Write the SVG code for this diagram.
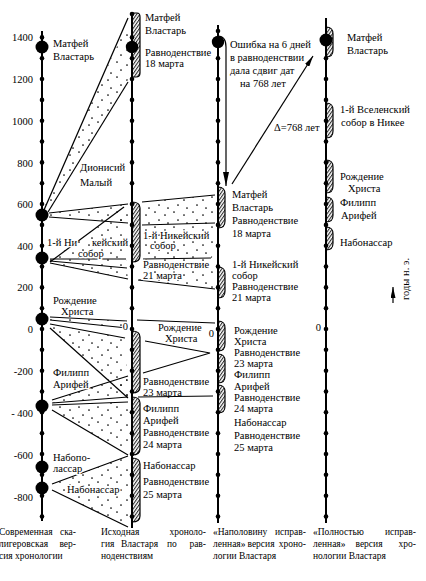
<svg xmlns="http://www.w3.org/2000/svg" width="426" height="581" viewBox="0 0 426 581">
<style>
.ax{stroke:#000;stroke-width:2;fill:none}
.ln{stroke:#000;stroke-width:1.2;fill:none}
.d{fill:#000}
.br{fill:url(#hatch);stroke:#000;stroke-width:1.2}
.wd{fill:url(#dots);stroke:none}
text{font-family:"Liberation Serif","Times New Roman",serif;font-size:10.5px;fill:#000}
.h{stroke:#fff;stroke-width:2.5px;paint-order:stroke;stroke-linejoin:round}
.yr{text-anchor:end}
.cap{font-size:9.5px}
.e{text-anchor:end}
.m{text-anchor:middle}
</style>
<defs>
<pattern id="hatch" width="2.6" height="4" patternUnits="userSpaceOnUse" patternTransform="rotate(35)"><line x1="0.6" y1="0" x2="0.6" y2="4" stroke="#000" stroke-width="0.9"/></pattern>
<pattern id="dots" width="19" height="15" patternUnits="userSpaceOnUse"><circle cx="3" cy="2" r="0.85" fill="#000"/><circle cx="13" cy="5" r="0.85" fill="#000"/><circle cx="7" cy="10" r="0.85" fill="#000"/><circle cx="16" cy="13" r="0.85" fill="#000"/></pattern>
<marker id="ah" markerWidth="14" markerHeight="6" refX="14" refY="3" orient="auto" markerUnits="userSpaceOnUse"><path d="M0,0 L14,3 L0,6 Z" fill="#000"/></marker>
<marker id="ah2" markerWidth="11" markerHeight="5" refX="11" refY="2.5" orient="auto" markerUnits="userSpaceOnUse"><path d="M0,0 L11,2.5 L0,5 Z" fill="#000"/></marker>
</defs>
<rect width="426" height="581" fill="#fff"/>

<g id="connectors">
<polygon class="wd" points="45,205 128,22 128,80 50,208"/>
<line class="ln" x1="44" y1="210" x2="128" y2="18"/>
<line class="ln" x1="48" y1="212" x2="128" y2="82"/>
<polygon class="wd" points="49,213 128,204 128,223 49,217"/>
<line class="ln" x1="49" y1="213" x2="128" y2="204"/>
<line class="ln" x1="49" y1="217" x2="128" y2="223"/>
<polygon class="wd" points="52,259 124,209 125,259"/>
<line class="ln" x1="50" y1="262" x2="124" y2="207"/>
<line class="ln" x1="50" y1="259" x2="126" y2="259"/>
<polygon class="wd" points="50,259 126,259 128,279 50,263"/>
<line class="ln" x1="50" y1="261" x2="127" y2="268"/>
<line class="ln" x1="50" y1="263" x2="128" y2="279"/>
<polygon class="wd" points="50,317 127,321 127,328 50,320"/>
<line class="ln" x1="50" y1="317" x2="127" y2="321"/>
<line class="ln" x1="50" y1="320" x2="127" y2="328"/>
<polygon class="wd" points="50,324 125,338 128,398 50,328"/>
<line class="ln" x1="50" y1="324" x2="125" y2="338"/>
<line class="ln" x1="50" y1="328" x2="128" y2="398"/>
<polygon class="wd" points="52,400 128,376 128,397 52,403"/>
<line class="ln" x1="52" y1="400" x2="128" y2="376"/>
<line class="ln" x1="52" y1="403" x2="128" y2="397"/>
<polygon class="wd" points="52,405 128,402 128,455 52,410"/>
<line class="ln" x1="52" y1="405" x2="128" y2="402"/>
<line class="ln" x1="52" y1="410" x2="128" y2="455"/>
<polygon class="wd" points="52,484 128,456 128,527 52,490"/>
<line class="ln" x1="52" y1="484" x2="128" y2="456"/>
<line class="ln" x1="52" y1="490" x2="128" y2="527"/>
<polygon class="wd" points="142,202 215,195 215,223 142,225"/>
<line class="ln" x1="142" y1="202" x2="215" y2="195"/>
<line class="ln" x1="142" y1="225" x2="215" y2="223"/>
<polygon class="wd" points="142,225 215,223 212,258 143,259"/>
<line class="ln" x1="143" y1="259" x2="211" y2="258"/>
<polygon class="wd" points="143,259 211,258 215,289 138,280"/>
<line class="ln" x1="138" y1="280" x2="215" y2="289"/>
<line class="ln" x1="137" y1="320" x2="215" y2="323"/>
<polyline class="ln" points="145,341 210,353 143,373"/>
<line class="ln" x1="138" y1="397" x2="213" y2="396"/>
<path class="ln" d="M218,36 C224,36 226,40 226,47 L226,186" marker-end="url(#ah)"/>
<line class="ln" x1="232" y1="184" x2="313" y2="56" marker-end="url(#ah2)"/>
<line class="ln" x1="393" y1="303" x2="393" y2="287" marker-end="url(#ah2)"/>
</g>

<g id="col1">
<line class="ax" x1="42" y1="31" x2="42" y2="521"/>
<g class="d">
<circle cx="42" cy="37.4" r="2.3"/><circle cx="42" cy="58.2" r="2.3"/><circle cx="42" cy="79" r="2.3"/><circle cx="42" cy="99.9" r="2.3"/><circle cx="42" cy="120.7" r="2.3"/><circle cx="42" cy="141.5" r="2.3"/><circle cx="42" cy="162.4" r="2.3"/><circle cx="42" cy="183.2" r="2.3"/><circle cx="42" cy="204" r="2.3"/><circle cx="42" cy="224.9" r="2.3"/><circle cx="42" cy="245.7" r="2.3"/><circle cx="42" cy="266.5" r="2.3"/><circle cx="42" cy="287.4" r="2.3"/><circle cx="42" cy="308.2" r="2.3"/><circle cx="42" cy="329" r="2.3"/><circle cx="42" cy="349.8" r="2.3"/><circle cx="42" cy="370.7" r="2.3"/><circle cx="42" cy="391.5" r="2.3"/><circle cx="42" cy="412.3" r="2.3"/><circle cx="42" cy="433.2" r="2.3"/><circle cx="42" cy="454" r="2.3"/><circle cx="42" cy="474.8" r="2.3"/><circle cx="42" cy="495.7" r="2.3"/><circle cx="42" cy="516.5" r="2.3"/>
<circle cx="42" cy="47" r="6.5"/><circle cx="42" cy="215" r="6.5"/><circle cx="42" cy="258" r="6.5"/><circle cx="42" cy="319" r="6.5"/><circle cx="42" cy="406" r="6.5"/><circle cx="42" cy="467" r="6.5"/><circle cx="42" cy="488" r="6.5"/>
</g>
<text class="yr" x="33" y="41">1400</text>
<text class="yr" x="33" y="83">1200</text>
<text class="yr" x="33" y="125">1000</text>
<text class="yr" x="33" y="167">800</text>
<text class="yr" x="33" y="208">600</text>
<text class="yr" x="33" y="250">400</text>
<text class="yr" x="33" y="291">200</text>
<text class="yr" x="33" y="333">0</text>
<text class="yr" x="33" y="375">-200</text>
<text class="yr" x="33" y="417">- 400</text>
<text class="yr" x="33" y="459">-600</text>
<text class="yr" x="33" y="501">-800</text>
</g>
<g id="col1-labels">
<text x="53" y="47">Матфей</text>
<text x="53" y="60">Властарь</text>
<text x="80" y="171" class="h">Дионисий</text>
<text x="80" y="186" class="h">Малый</text>
<text x="47" y="246" class="h">1-й Ни</text>
<text x="92" y="246" class="h">кейский</text>
<text x="78" y="256.5" class="h">собор</text>
<text x="53" y="304">Рождение</text>
<text x="61" y="315">Христа</text>
<text x="53" y="376" class="h">Филипп</text>
<text x="53" y="388" class="h">Арифей</text>
<text x="53" y="461" class="h">Набопо-</text>
<text x="53" y="472" class="h">лассар</text>
<text x="67" y="493" class="h">Набонассар</text>
</g>

<g id="col2">
<line class="ax" x1="132" y1="12" x2="132" y2="528"/>
<path class="br" d="M132,13 L137,13 Q140,13 140,17 L140,73 Q140,77 136,77 L132,77 Z"/>
<path class="br" d="M132,202 Q140,202 140,208 L140,256 Q140,262 132,262 Z"/>
<path class="br" d="M132,331 Q140,331 140,337 L140,387 Q140,393 132,393 Z"/>
<path class="br" d="M132,397 Q140,397 140,403 L140,449 Q140,455 132,455 Z"/>
<path class="br" d="M132,458 Q140,458 140,464 L140,516 Q140,522 132,522 Z"/>
<g class="d">
<circle cx="132" cy="14" r="2.3"/><circle cx="132" cy="37.4" r="2.3"/><circle cx="132" cy="58.2" r="2.3"/><circle cx="132" cy="79" r="2.3"/><circle cx="132" cy="99.9" r="2.3"/><circle cx="132" cy="120.7" r="2.3"/><circle cx="132" cy="141.5" r="2.3"/><circle cx="132" cy="162.4" r="2.3"/><circle cx="132" cy="183.2" r="2.3"/><circle cx="132" cy="204" r="2.3"/><circle cx="132" cy="224.9" r="2.3"/><circle cx="132" cy="245.7" r="2.3"/><circle cx="132" cy="266.5" r="2.3"/><circle cx="132" cy="287.4" r="2.3"/><circle cx="132" cy="308.2" r="2.3"/><circle cx="132" cy="329" r="2.3"/><circle cx="132" cy="349.8" r="2.3"/><circle cx="132" cy="370.7" r="2.3"/><circle cx="132" cy="391.5" r="2.3"/><circle cx="132" cy="412.3" r="2.3"/><circle cx="132" cy="433.2" r="2.3"/><circle cx="132" cy="454" r="2.3"/><circle cx="132" cy="474.8" r="2.3"/><circle cx="132" cy="495.7" r="2.3"/><circle cx="132" cy="516.5" r="2.3"/>
<circle cx="132" cy="47" r="6.2"/>
</g>
<text class="e h" x="128" y="330">0</text>
</g>
<g id="col2-labels">
<text x="145" y="21">Матфей</text>
<text x="145" y="34">Властарь</text>
<text x="145" y="56">Равноденствие</text>
<text x="145" y="67">18 марта</text>
<text x="143" y="239" class="h">1-й Никейский</text>
<text x="150" y="249" class="h">собор</text>
<text x="143" y="268" class="h">Равноденствие</text>
<text x="143" y="279" class="h">21 марта</text>
<text x="158" y="331">Рождение</text>
<text x="165" y="342">Христа</text>
<text x="143" y="385">Равноденствие</text>
<text x="143" y="396">23 марта</text>
<text x="143" y="412">Филипп</text>
<text x="143" y="424">Арифей</text>
<text x="143" y="436">Равноденствие</text>
<text x="143" y="448">24 марта</text>
<text x="143" y="469">Набонассар</text>
<text x="143" y="485">Равноденствие</text>
<text x="143" y="498">25 марта</text>
</g>

<g id="col3">
<line class="ax" x1="218" y1="25" x2="218" y2="523"/>
<path class="br" d="M218,187 C224,187 225,190 225,194 L225,221 C225,225 224,228 218,228 Z"/>
<path class="br" d="M218,267 C224,267 225,270 225,274 L225,291 C225,295 224,298 218,298 Z"/>
<path class="br" d="M218,321 C224,321 225,324 225,328 L225,344 C225,348 224,351 218,351 Z"/>
<path class="br" d="M218,354 C224,354 225,357 225,361 L225,376 C225,380 224,383 218,383 Z"/>
<path class="br" d="M218,385 C224,385 225,388 225,392 L225,406 C225,410 224,413 218,413 Z"/>
<g class="d">
<circle cx="218" cy="31" r="2.3"/><circle cx="218" cy="58.2" r="2.3"/><circle cx="218" cy="79" r="2.3"/><circle cx="218" cy="99.9" r="2.3"/><circle cx="218" cy="120.7" r="2.3"/><circle cx="218" cy="141.5" r="2.3"/><circle cx="218" cy="162.4" r="2.3"/><circle cx="218" cy="183.2" r="2.3"/><circle cx="218" cy="204" r="2.3"/><circle cx="218" cy="224.9" r="2.3"/><circle cx="218" cy="245.7" r="2.3"/><circle cx="218" cy="266.5" r="2.3"/><circle cx="218" cy="287.4" r="2.3"/><circle cx="218" cy="308.2" r="2.3"/><circle cx="218" cy="329" r="2.3"/><circle cx="218" cy="349.8" r="2.3"/><circle cx="218" cy="370.7" r="2.3"/><circle cx="218" cy="391.5" r="2.3"/><circle cx="218" cy="412.3" r="2.3"/><circle cx="218" cy="433.2" r="2.3"/><circle cx="218" cy="454" r="2.3"/><circle cx="218" cy="474.8" r="2.3"/><circle cx="218" cy="495.7" r="2.3"/><circle cx="218" cy="516.5" r="2.3"/>
<circle cx="218" cy="42" r="6.2"/>
</g>
<text class="e" x="214" y="337">0</text>
</g>
<g id="col3-labels">
<text x="230" y="48">Ошибка на 6 дней</text>
<text x="230" y="61">в равноденствии</text>
<text x="230" y="74">дала сдвиг дат</text>
<text x="240" y="87">на 768 лет</text>
<text x="274" y="131">Δ=768 лет</text>
<text x="232" y="198">Матфей</text>
<text x="232" y="211">Властарь</text>
<text x="232" y="224">Равноденствие</text>
<text x="232" y="237">18 марта</text>
<text x="232" y="268">1-й Никейский</text>
<text x="232" y="279">собор</text>
<text x="232" y="290">Равноденствие</text>
<text x="232" y="301">21 марта</text>
<text x="234" y="334">Рождение</text>
<text x="234" y="345">Христа</text>
<text x="234" y="356">Равноденствие</text>
<text x="234" y="367">23 марта</text>
<text x="234" y="378">Филипп</text>
<text x="234" y="390">Арифей</text>
<text x="234" y="401">Равноденствие</text>
<text x="234" y="412">24 марта</text>
<text x="234" y="426">Набонассар</text>
<text x="234" y="439">Равноденствие</text>
<text x="234" y="451">25 марта</text>
</g>

<g id="col4">
<line class="ax" x1="326" y1="18" x2="326" y2="523"/>
<path class="br" d="M326,27 C332,27 333,30 333,34 L333,50 C333,54 332,57 326,57 Z"/>
<path class="br" d="M326,103 C332,103 333,106 333,110 L333,131 C333,135 332,138 326,138 Z"/>
<path class="br" d="M326,160 C332,160 333,163 333,167 L333,186 C333,190 332,193 326,193 Z"/>
<path class="br" d="M326,197 C332,197 333,200 333,204 L333,215 C333,219 332,222 326,222 Z"/>
<path class="br" d="M326,227 C332,227 333,230 333,234 L333,243 C333,247 332,250 326,250 Z"/>
<g class="d">
<circle cx="326" cy="58.2" r="2.3"/><circle cx="326" cy="79" r="2.3"/><circle cx="326" cy="99.9" r="2.3"/><circle cx="326" cy="120.7" r="2.3"/><circle cx="326" cy="141.5" r="2.3"/><circle cx="326" cy="162.4" r="2.3"/><circle cx="326" cy="183.2" r="2.3"/><circle cx="326" cy="204" r="2.3"/><circle cx="326" cy="224.9" r="2.3"/><circle cx="326" cy="245.7" r="2.3"/><circle cx="326" cy="266.5" r="2.3"/><circle cx="326" cy="287.4" r="2.3"/><circle cx="326" cy="308.2" r="2.3"/><circle cx="326" cy="329" r="2.3"/><circle cx="326" cy="349.8" r="2.3"/><circle cx="326" cy="370.7" r="2.3"/><circle cx="326" cy="391.5" r="2.3"/><circle cx="326" cy="412.3" r="2.3"/><circle cx="326" cy="433.2" r="2.3"/><circle cx="326" cy="454" r="2.3"/><circle cx="326" cy="474.8" r="2.3"/><circle cx="326" cy="495.7" r="2.3"/><circle cx="326" cy="516.5" r="2.3"/>
<circle cx="326" cy="40" r="6.5"/>
</g>
<text class="e" x="321" y="331">0</text>
</g>
<g id="col4-labels">
<text x="347" y="41">Матфей</text>
<text x="347" y="54">Властарь</text>
<text x="340" y="113">1-й Вселенский</text>
<text x="341" y="126">собор в Никее</text>
<text x="340" y="180">Рождение</text>
<text x="348" y="192">Христа</text>
<text x="340" y="206">Филипп</text>
<text x="341" y="219">Арифей</text>
<text x="340" y="246">Набонассар</text>
<text transform="translate(409,279) rotate(-90)" class="m" x="0" y="0">годы н. э.</text>
</g>

<g id="captions">
<text class="cap" x="-1" y="535">Современная</text><text class="cap e" x="76" y="535">ска-</text>
<text class="cap" x="-1" y="547">лигеровская</text><text class="cap e" x="76" y="547">вер-</text>
<text class="cap" x="-1" y="559">сия хронологии</text>
<text class="cap" x="101" y="535">Исходная</text><text class="cap e" x="206" y="535">хроноло-</text>
<text class="cap" x="101" y="547">гия</text><text class="cap" x="121" y="547">Властаря</text><text class="cap" x="167" y="547">по</text><text class="cap e" x="206" y="547">рав-</text>
<text class="cap" x="101" y="559">ноденствиям</text>
<text class="cap" x="213" y="535">«Наполовину</text><text class="cap e" x="306" y="535">исправ-</text>
<text class="cap" x="213" y="547">ленная»</text><text class="cap m" x="261" y="547">версия</text><text class="cap e" x="306" y="547">хроно-</text>
<text class="cap" x="213" y="559">логии Властаря</text>
<text class="cap" x="313" y="535">«Полностью</text><text class="cap e" x="416" y="535">исправ-</text>
<text class="cap" x="313" y="547">ленная»</text><text class="cap m" x="369" y="547">версия</text><text class="cap e" x="416" y="547">хро-</text>
<text class="cap" x="313" y="559">нологии Властаря</text>
</g>
</svg>
